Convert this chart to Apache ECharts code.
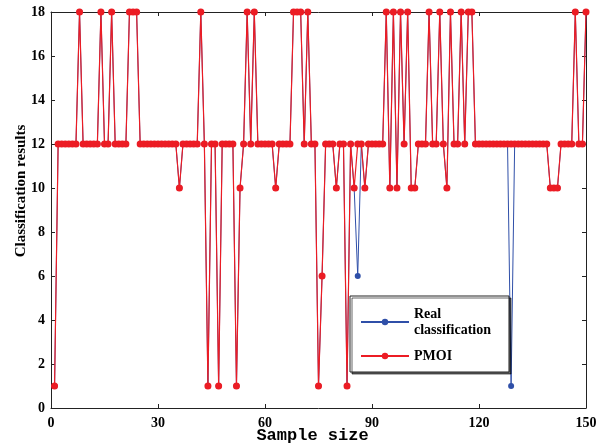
<!DOCTYPE html>
<html>
<head>
<meta charset="utf-8">
<script src="https://cdn.jsdelivr.net/npm/echarts@6/dist/echarts.min.js"></script>
<style>
  html, body { margin: 0; padding: 0; background: #fff; }
  #chart { width: 611px; height: 445px; }
</style>
</head>
<body>
<div id="chart"></div>
<script>
// classification per sample (samples 1..150)
const realClass = [
  1, 12, 12, 12, 12, 12, 12, 18, 12, 12,
  12, 12, 12, 18, 12, 12, 18, 12, 12, 12,
  12, 18, 18, 18, 12, 12, 12, 12, 12, 12,
  12, 12, 12, 12, 12, 10, 12, 12, 12, 12,
  12, 18, 12, 1, 12, 12, 1, 12, 12, 12,
  12, 1, 10, 12, 18, 12, 18, 12, 12, 12,
  12, 12, 10, 12, 12, 12, 12, 18, 18, 18,
  12, 18, 12, 12, 1, 6, 12, 12, 12, 10,
  12, 12, 1, 12, 10, 6, 12, 10, 12, 12,
  12, 12, 12, 18, 10, 18, 10, 18, 12, 18,
  10, 10, 12, 12, 12, 18, 12, 12, 18, 12,
  10, 18, 12, 12, 18, 12, 18, 18, 12, 12,
  12, 12, 12, 12, 12, 12, 12, 12, 1, 12,
  12, 12, 12, 12, 12, 12, 12, 12, 12, 10,
  10, 10, 12, 12, 12, 12, 18, 12, 12, 18
];
const pmoiClass = [
  1, 12, 12, 12, 12, 12, 12, 18, 12, 12,
  12, 12, 12, 18, 12, 12, 18, 12, 12, 12,
  12, 18, 18, 18, 12, 12, 12, 12, 12, 12,
  12, 12, 12, 12, 12, 10, 12, 12, 12, 12,
  12, 18, 12, 1, 12, 12, 1, 12, 12, 12,
  12, 1, 10, 12, 18, 12, 18, 12, 12, 12,
  12, 12, 10, 12, 12, 12, 12, 18, 18, 18,
  12, 18, 12, 12, 1, 6, 12, 12, 12, 10,
  12, 12, 1, 12, 10, 12, 12, 10, 12, 12,
  12, 12, 12, 18, 10, 18, 10, 18, 12, 18,
  10, 10, 12, 12, 12, 18, 12, 12, 18, 12,
  10, 18, 12, 12, 18, 12, 18, 18, 12, 12,
  12, 12, 12, 12, 12, 12, 12, 12, 12, 12,
  12, 12, 12, 12, 12, 12, 12, 12, 12, 10,
  10, 10, 12, 12, 12, 12, 18, 12, 12, 18
];
const xTicks = [0, 30, 60, 90, 120, 150];
const yTicks = [0, 2, 4, 6, 8, 10, 12, 14, 16, 18];

const toPoints = arr => arr.map((v, i) => [i + 1, v]);

const serif = '"Liberation Serif", "Times New Roman", serif';
const lineColor = '#222';
const labelStyle = { fontFamily: serif, fontWeight: 'bold', fontSize: 14, color: '#000' };

const chart = echarts.init(document.getElementById('chart'), null, { renderer: 'canvas' });

const baseX = {
  type: 'value', min: xTicks[0], max: xTicks[xTicks.length - 1], interval: 30,
  splitLine: { show: false },
  axisLine: { show: true, onZero: false, lineStyle: { color: lineColor, width: 1 } },
  axisTick: { show: true, inside: true, length: 4, lineStyle: { color: lineColor } }
};
const baseY = {
  type: 'value', min: yTicks[0], max: yTicks[yTicks.length - 1], interval: 2,
  splitLine: { show: false },
  axisLine: { show: true, onZero: false, lineStyle: { color: lineColor, width: 1 } },
  axisTick: { show: true, inside: true, length: 4, lineStyle: { color: lineColor } }
};

chart.setOption({
  animation: false,
  backgroundColor: '#fff',
  grid: { left: 51, right: 25, top: 12, bottom: 37, containLabel: false, outerBoundsMode: 'none' },
  xAxis: [
    Object.assign({}, baseX, {
      position: 'bottom',
      axisLabel: Object.assign({ margin: 8 }, labelStyle),
      name: 'Sample size',
      nameLocation: 'middle',
      nameGap: 19,
      nameMoveOverlap: false,
      nameTextStyle: { fontFamily: '"Liberation Mono", "DejaVu Sans Mono", monospace', fontWeight: 'bold', fontSize: 17, color: '#000', padding: [0, 12, 0, 0] }
    }),
    Object.assign({}, baseX, { position: 'top', axisLabel: { show: false } })
  ],
  yAxis: [
    Object.assign({}, baseY, {
      position: 'left',
      axisLabel: Object.assign({ margin: 6 }, labelStyle),
      name: 'Classification results',
      nameLocation: 'middle',
      nameGap: 22,
      nameMoveOverlap: false,
      nameTextStyle: { fontFamily: serif, fontWeight: 'bold', fontSize: 15, color: '#000', padding: [0, 0, 0, 38] }
    }),
    Object.assign({}, baseY, { position: 'right', axisLabel: { show: false } })
  ],
  legend: {
    orient: 'vertical',
    left: 350,
    top: 296,
    padding: [10, 18, 8, 10],
    itemGap: 10,
    itemWidth: 48,
    itemHeight: 8,
    borderColor: '#222',
    borderWidth: 1,
    backgroundColor: '#fff',
    shadowColor: 'rgba(0,0,0,0.6)',
    shadowOffsetX: 2,
    shadowOffsetY: 2,
    textStyle: Object.assign({ lineHeight: 16 }, labelStyle),
    formatter: name => name === 'Real classification' ? 'Real\nclassification' : name,
    data: ['Real classification', 'PMOI']
  },
  series: [
    {
      name: 'Real classification',
      type: 'line',
      data: toPoints(realClass),
      symbol: 'circle',
      symbolSize: 6,
      color: '#2f4fa8',
      lineStyle: { width: 1, color: '#2f4fa8' },
      itemStyle: { color: '#2f4fa8' },
      z: 2
    },
    {
      name: 'PMOI',
      type: 'line',
      data: toPoints(pmoiClass),
      symbol: 'circle',
      symbolSize: 7,
      color: '#ec1c24',
      lineStyle: { width: 1.2, color: '#ec1c24' },
      itemStyle: { color: '#ec1c24' },
      z: 3
    }
  ]
});
</script>
</body>
</html>
